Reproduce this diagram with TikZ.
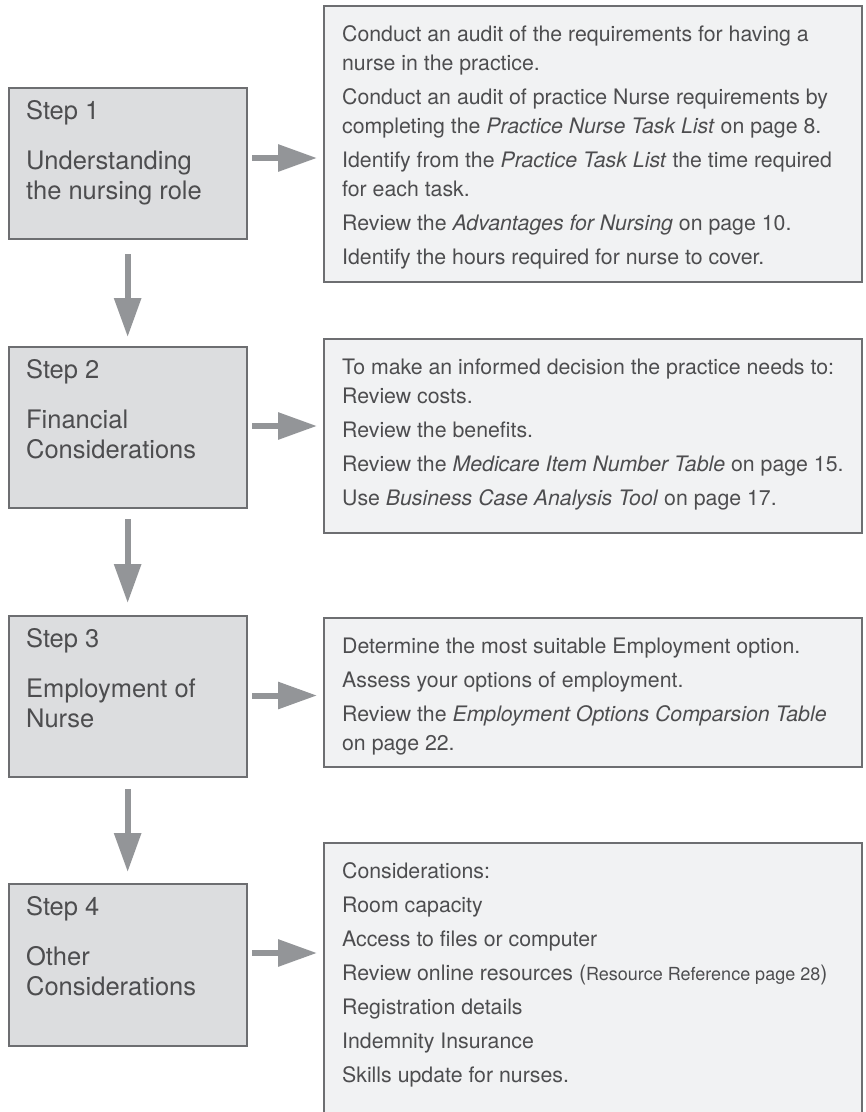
\documentclass[tikz,border=0pt]{standalone}
\usepackage{fontspec}
\setmainfont{TeX Gyre Heros}
\usetikzlibrary{arrows.meta}

\definecolor{stepfill}{HTML}{DCDDDF}
\definecolor{infofill}{HTML}{F1F2F3}
\definecolor{boxline}{HTML}{6D6E71}
\definecolor{arrowgray}{HTML}{939598}
\definecolor{textgray}{HTML}{4D4D4F}

% box contents: fixed height, text from the top
\newcommand{\stepbody}[2]{\parbox[c][#1][t]{203pt}{\fontsize{25.5}{30}\selectfont\rule{0pt}{31.5pt}#2}}
\newcommand{\infobody}[2]{\parbox[c][#1][t]{501.5pt}{\fontsize{21.3}{29}\selectfont\rule{0pt}{35.5pt}#2}}

\tikzset{
  stepbox/.style={draw=boxline, fill=stepfill, line width=2.3pt, inner xsep=17.5pt, inner ysep=0pt, text=textgray, anchor=north west},
  infobox/.style={draw=boxline, fill=infofill, line width=2.3pt, inner xsep=18pt, inner ysep=0pt, text=textgray, anchor=north west},
  flowarrow/.style={draw=arrowgray, line width=6pt, -{Triangle[length=39pt, width=26pt]}}
}

\begin{document}
\begin{tikzpicture}[x=1pt, y=-1pt]
  \useasboundingbox (0,0) rectangle (866,1112);
  % steps
  \node[stepbox] (step1) at (7.5,87)  {\stepbody{151pt}{Step 1\\[20pt]Understanding\\the nursing role}};
  \node[stepbox] (step2) at (7.5,346) {\stepbody{161pt}{Step 2\\[20pt]Financial\\Considerations}};
  \node[stepbox] (step3) at (7.5,615) {\stepbody{161pt}{Step 3\\[20pt]Employment of\\Nurse}};
  \node[stepbox] (step4) at (7.5,883) {\stepbody{162pt}{Step 4\\[20pt]Other\\Considerations}};
  % what to do in each step
  \node[infobox] (info1) at (323,5) {\infobody{276pt}{%
    Conduct an audit of the requirements for having a\\
    nurse in the practice.\\[5pt]
    Conduct an audit of practice Nurse requirements by\\
    completing the \textit{Practice Nurse Task List} on page 8.\\[5pt]
    Identify from the \textit{Practice Task List} the time required\\
    for each task.\\[5pt]
    Review the \textit{Advantages for Nursing} on page 10.\\[5pt]
    Identify the hours required for nurse to cover.}};
  \node[infobox] (info2) at (323,338) {\infobody{194pt}{%
    To make an informed decision the practice needs to:\\
    Review costs.\\[5pt]
    Review the benefits.\\[5pt]
    Review the \textit{Medicare Item Number Table} on page 15.\\[5pt]
    Use \textit{Business Case Analysis Tool} on page 17.}};
  \node[infobox] (info3) at (323,617) {\infobody{149pt}{%
    Determine the most suitable Employment option.\\[5pt]
    Assess your options of employment.\\[5pt]
    Review the \textit{Employment Options Comparsion Table}\\
    on page 22.}};
  \node[infobox] (info4) at (323,842) {\infobody{270pt}{%
    Considerations:\\[5pt]
    Room capacity\\[5pt]
    Access to files or computer\\[5pt]
    Review online resources ({\fontsize{18}{29}\selectfont Resource Reference page 28})\\[5pt]
    Registration details\\[5pt]
    Indemnity Insurance\\[5pt]
    Skills update for nurses.}};
  % arrows down
  \draw[flowarrow, shorten <=14pt, shorten >=9pt] (step1.south) -- (step2.north);
  \draw[flowarrow, shorten <=10pt, shorten >=12pt] (step2.south) -- (step3.north);
  \draw[flowarrow, shorten <=11pt, shorten >=11pt] (step3.south) -- (step4.north);
  % arrows across
  \foreach \i/\d in {1/71, 2/80, 3/80.5, 4/70}{
    \coordinate (out\i) at ([yshift=-\d pt]step\i.north east);
    \draw[flowarrow, shorten <=4.5pt, shorten >=6pt] (out\i) -- (out\i -| info\i.west);
  }
\end{tikzpicture}
\end{document}
